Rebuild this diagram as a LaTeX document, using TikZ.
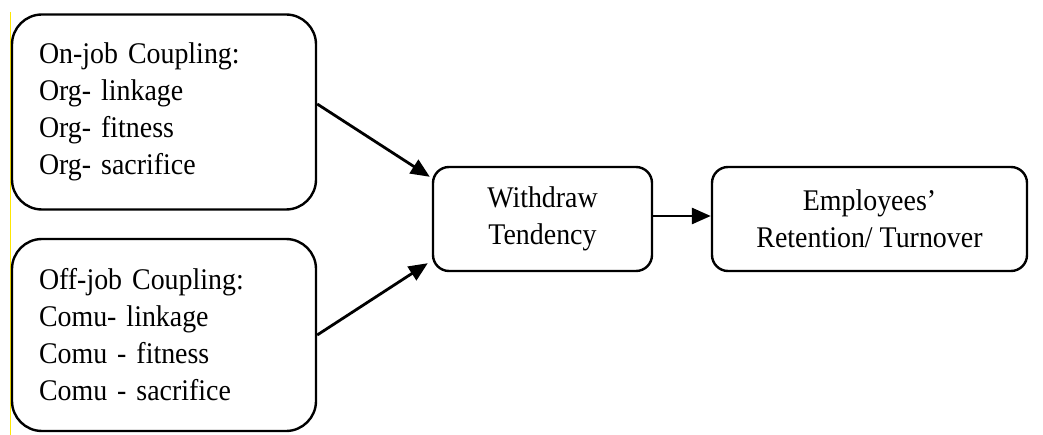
\documentclass[tikz,border=0pt]{standalone}
\usepackage{fontspec}
\setmainfont{Liberation Serif}[FakeStretch=0.93]
\usetikzlibrary{arrows.meta,calc}
\begin{document}
\begin{tikzpicture}[x=1pt,y=-1pt,
  bigbox/.style={draw=black, line width=2.4pt, rounded corners=30pt, minimum width=304pt, minimum height=195pt, text width=250pt, align=left, font=\fontsize{30}{37}\selectfont},
  midbox/.style={draw=black, line width=2.4pt, rounded corners=16pt, minimum height=104pt, align=center, font=\fontsize{30}{37}\selectfont},
  conn/.style={line width=2.8pt, -{Triangle[length=19pt,width=16pt]}}]
\useasboundingbox (0,0) rectangle (1043,435);
\fill[white] (0,0) rectangle (1043,435);
\draw[yellow!90!orange, line width=1pt] (10,12) -- (10,435);
\node[bigbox] (b1) at (164,112) {On-job Coupling:\\Org- linkage\\Org- fitness\\Org- sacrifice};
\node[bigbox, minimum height=192pt] (b2) at (164,335) {Off-job Coupling:\\Comu- linkage\\Comu - fitness\\Comu - sacrifice};
\node[midbox, minimum width=219pt] (w) at (542.5,219) {Withdraw\\Tendency};
\node[midbox, minimum width=315pt] (e) at (869.5,219) {Employees'\\Retention/ Turnover};
\coordinate (a1s) at ($(b1.east)+(0,-8)$);
\coordinate (a1e) at ($(w.north west)+(-2,11)$);
\coordinate (a2e) at ($(w.south west)+(-4,-9)$);
\coordinate (a3s) at ($(w.east)+(0,-3)$);
\coordinate (a3e) at ($(e.west)+(0,-3)$);
\draw[conn] (a1s) -- (a1e);
\draw[conn] (b2.east) -- (a2e);
\draw[conn] (a3s) -- (a3e);
\end{tikzpicture}
\end{document}
